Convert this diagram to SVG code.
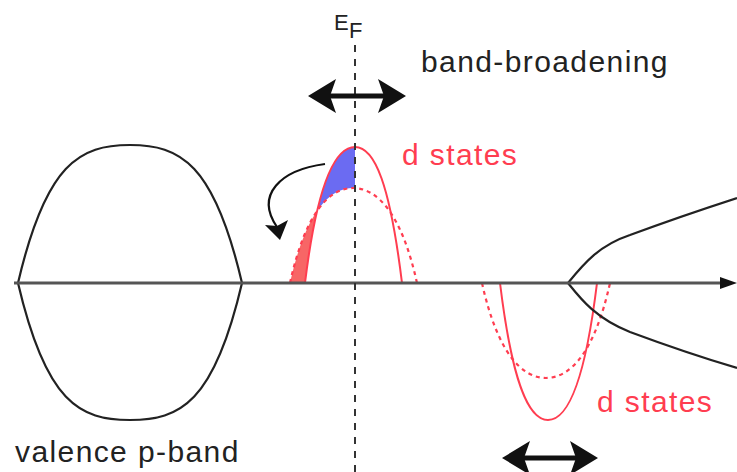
<svg xmlns="http://www.w3.org/2000/svg" width="737" height="472" viewBox="0 0 737 472">
<style>
.txt{font-family:"Liberation Sans",Arial,Helvetica,sans-serif;font-size:30px;letter-spacing:1.4px;fill:#222}
.sym{font-family:"Liberation Sans",Arial,Helvetica,sans-serif;font-size:22px;fill:#222}
.red{fill:#ff3d50}
.band{fill:none;stroke:#222;stroke-width:2.2}
.dsol{fill:none;stroke:#ff3d50;stroke-width:2}
.ddash{fill:none;stroke:#ff3d50;stroke-width:2.2;stroke-dasharray:4 4}
.head{fill:#111}
.shaft{stroke:#111;stroke-width:5;fill:none}
</style>
<defs>
<path id="solidUp" d="M305,283 C317,185 335,147 355,147 C375,147 390,185 402,283 Z"/>
<path id="dashUp" d="M290,283 C305,215 328,188 353,188 C378,188 402,215 417,283 Z"/>
<mask id="mBlue" maskUnits="userSpaceOnUse" x="0" y="0" width="737" height="472">
<use href="#solidUp" fill="#fff"/>
<use href="#dashUp" fill="#000"/>
</mask>
<mask id="mRed" maskUnits="userSpaceOnUse" x="0" y="0" width="737" height="472">
<use href="#dashUp" fill="#fff"/>
<use href="#solidUp" fill="#000"/>
</mask>
<path id="head" d="M0,0 L28,-17 L22,0 L28,17 Z"/>
</defs>
<rect width="737" height="472" fill="#fff"/>

<g id="valence-p-band">
<path class="band" d="M18,283 C46,163 80,145 130,145 C180,145 214,163 242,283"/>
<path class="band" d="M18,283 C46,403 80,420 130,420 C180,420 214,403 242,283"/>
<text class="txt" x="15" y="462">valence p-band</text>
</g>

<g id="d-states-upper">
<rect x="280" y="140" width="75" height="150" fill="#6b6bf2" mask="url(#mBlue)"/>
<rect x="280" y="140" width="75" height="150" fill="#f76666" mask="url(#mRed)"/>
<use href="#solidUp" class="dsol"/>
<path class="ddash" d="M290,283 C305,215 328,188 353,188 C378,188 402,215 417,283"/>
<text class="txt red" x="402" y="165">d states</text>
</g>

<g id="d-states-lower">
<path class="dsol" d="M500,283 C512,381 528,420 548,420 C568,420 585,381 597,283"/>
<path class="ddash" d="M482,283 C497,351 521,378 546,378 C571,378 595,351 610,283"/>
<text class="txt red" x="597" y="412">d states</text>
</g>

<g id="conduction-band">
<path class="band" d="M568,283 C585,262 600,245 630,235 C665,222 700,210 737,198"/>
<path class="band" d="M568,283 C580,298 595,318 630,332 C665,345 700,357 737,368"/>
</g>

<g id="axis">
<line x1="14" y1="283" x2="724" y2="283" stroke="#555" stroke-width="3"/>
<path d="M737,283 L720,277 L720,289 Z" fill="#111"/>
</g>

<g id="fermi-level">
<line x1="355" y1="45" x2="355" y2="472" stroke="#333" stroke-width="2" stroke-dasharray="7 7"/>
<text class="sym" x="334" y="30">E</text>
<text class="sym" x="349" y="38">F</text>
</g>

<g id="band-broadening">
<text class="txt" x="421" y="72">band-broadening</text>
</g>

<g id="connectors">
<line class="shaft" x1="325" y1="96" x2="389" y2="96"/>
<use href="#head" class="head" transform="translate(308,96)"/>
<use href="#head" class="head" transform="translate(406,96) scale(-1,1)"/>
<line class="shaft" x1="519" y1="458" x2="581" y2="458"/>
<use href="#head" class="head" transform="translate(502,458)"/>
<use href="#head" class="head" transform="translate(598,458) scale(-1,1)"/>
<path d="M325,164 C280,170 255,195 277,227" fill="none" stroke="#111" stroke-width="2.2"/>
<polygon points="265,225 280,240 288,220 277,226" fill="#111"/>
</g>
</svg>
